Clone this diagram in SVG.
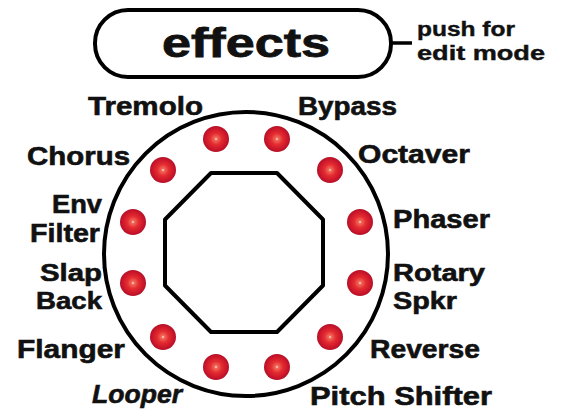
<svg xmlns="http://www.w3.org/2000/svg" width="561" height="410" viewBox="0 0 561 410">
<defs>
<radialGradient id="led" cx="50%" cy="50%" r="50%">
<stop offset="0" stop-color="#fff4e0"/>
<stop offset="0.12" stop-color="#f26a5a"/>
<stop offset="0.45" stop-color="#e32b30"/>
<stop offset="0.85" stop-color="#c8142a"/>
<stop offset="1" stop-color="#b01228"/>
</radialGradient>
</defs>
<style>
.ln{fill:none;stroke:#000;stroke-width:4;stroke-linejoin:round}
.lbl{font-family:"Liberation Sans",Arial,sans-serif;font-weight:bold;font-size:26px;fill:#111;stroke:#111;stroke-width:0.6}
.tight{font-size:24.5px}
.sm{font-family:"Liberation Sans",Arial,sans-serif;font-weight:bold;font-size:20px;fill:#111;stroke:#111;stroke-width:0.4}
.led{fill:url(#led)}
</style>
<rect width="561" height="410" fill="#fff"/>
<g id="connectors">
<line x1="391" y1="43" x2="412" y2="43" stroke="#000" stroke-width="3.5"/>
</g>
<g id="effects-button">
<rect x="95" y="10" width="296" height="67" rx="33" ry="33" class="ln" stroke-width="3.5"/>
<text x="246" y="57" text-anchor="middle" font-family="Liberation Sans,Arial,sans-serif" font-weight="bold" font-size="40" textLength="168" lengthAdjust="spacingAndGlyphs" fill="#111" stroke="#111" stroke-width="0.8">effects</text>
</g>
<g id="edit-note">
<text class="sm" x="417" y="36" textLength="98" lengthAdjust="spacingAndGlyphs">push for</text>
<text class="sm" x="417" y="60" textLength="128" lengthAdjust="spacingAndGlyphs">edit mode</text>
</g>
<g id="knob">
<circle cx="246" cy="254" r="142" class="ln"/>
<path class="ln" d="M211,173 L277,173 L323,219.5 L323,285.5 L277,332 L211,332 L165,285.5 L165,219.5 Z"/>
</g>
<g id="leds">
<circle class="led" cx="216" cy="139" r="13"/>
<circle class="led" cx="277" cy="139" r="13"/>
<circle class="led" cx="163" cy="170" r="13"/>
<circle class="led" cx="330" cy="170" r="13"/>
<circle class="led" cx="133" cy="222" r="13"/>
<circle class="led" cx="360" cy="222" r="13"/>
<circle class="led" cx="133" cy="283" r="13"/>
<circle class="led" cx="360" cy="283" r="13"/>
<circle class="led" cx="163" cy="337" r="13"/>
<circle class="led" cx="330" cy="337" r="13"/>
<circle class="led" cx="216" cy="367" r="13"/>
<circle class="led" cx="277" cy="367" r="13"/>
</g>
<g id="tremolo"><text class="lbl" x="88" y="115" textLength="115" lengthAdjust="spacingAndGlyphs">Tremolo</text></g>
<g id="bypass"><text class="lbl" x="298" y="115" textLength="99" lengthAdjust="spacingAndGlyphs">Bypass</text></g>
<g id="chorus"><text class="lbl" x="27" y="165" textLength="103" lengthAdjust="spacingAndGlyphs">Chorus</text></g>
<g id="octaver"><text class="lbl" x="358" y="163" textLength="112" lengthAdjust="spacingAndGlyphs">Octaver</text></g>
<g id="env-filter">
<text class="lbl" x="52" y="213" textLength="50" lengthAdjust="spacingAndGlyphs">Env</text>
<text class="lbl" x="30" y="242" textLength="70" lengthAdjust="spacingAndGlyphs">Filter</text>
</g>
<g id="phaser"><text class="lbl" x="393" y="228" textLength="97" lengthAdjust="spacingAndGlyphs">Phaser</text></g>
<g id="slap-back">
<text class="lbl tight" x="40" y="281" textLength="62" lengthAdjust="spacingAndGlyphs">Slap</text>
<text class="lbl tight" x="36" y="309" textLength="66" lengthAdjust="spacingAndGlyphs">Back</text>
</g>
<g id="rotary-spkr">
<text class="lbl tight" x="393" y="281" textLength="92" lengthAdjust="spacingAndGlyphs">Rotary</text>
<text class="lbl tight" x="393" y="309" textLength="64" lengthAdjust="spacingAndGlyphs">Spkr</text>
</g>
<g id="flanger"><text class="lbl" x="17" y="358" textLength="108" lengthAdjust="spacingAndGlyphs">Flanger</text></g>
<g id="reverse"><text class="lbl" x="370" y="358" textLength="110" lengthAdjust="spacingAndGlyphs">Reverse</text></g>
<g id="looper"><text class="lbl" x="92" y="403" font-style="italic" textLength="90" lengthAdjust="spacingAndGlyphs">Looper</text></g>
<g id="pitch-shifter"><text class="lbl" x="310" y="405" textLength="182" lengthAdjust="spacingAndGlyphs">Pitch Shifter</text></g>
</svg>
